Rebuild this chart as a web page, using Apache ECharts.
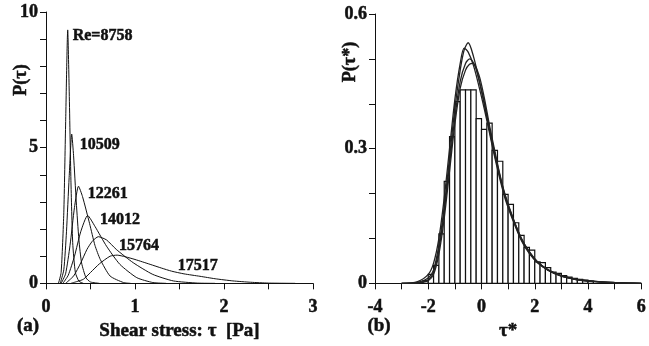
<!DOCTYPE html>
<html>
<head>
<meta charset="utf-8">
<script src="https://cdn.jsdelivr.net/npm/echarts@6/dist/echarts.min.js"></script>
<style>
  html, body { margin: 0; padding: 0; background: #fff; }
  #main { width: 649px; height: 346px; }
</style>
</head>
<body>
<div id="main"></div>
<script>
// (a) P(tau) curves, one per Reynolds number: [tau, P]
var c8758 = [[0.14,0],[0.17,0.4],[0.20,2.6],[0.22,5.8],[0.244,9.34],[0.26,7.2],[0.28,3.8],[0.30,1.5],[0.33,0.4],[0.37,0.08],[0.42,0]];
var c10509 = [[0.16,0],[0.20,0.5],[0.23,1.9],[0.26,3.9],[0.289,5.5],[0.31,4.7],[0.34,3.0],[0.37,1.6],[0.40,0.75],[0.45,0.2],[0.50,0.05],[0.6,0]];
var c12261 = [[0.17,0],[0.22,0.35],[0.27,1.4],[0.32,2.8],[0.365,3.58],[0.41,3.2],[0.49,2.2],[0.55,1.4],[0.61,0.88],[0.72,0.27],[0.87,0.03],[0.95,0]];
var c14012 = [[0.19,0],[0.25,0.3],[0.32,1.0],[0.39,1.9],[0.468,2.5],[0.55,2.1],[0.68,1.37],[0.83,0.7],[1.02,0.21],[1.2,0.03],[1.35,0]];
var c15764 = [[0.22,0],[0.31,0.27],[0.39,0.75],[0.46,1.25],[0.52,1.55],[0.588,1.72],[0.68,1.6],[0.79,1.25],[0.98,0.76],[1.2,0.33],[1.43,0.09],[1.7,0.01],[1.9,0]];
var c17517 = [[0.28,0],[0.35,0.07],[0.42,0.15],[0.5,0.4],[0.6,0.72],[0.72,1.0],[0.8,1.04],[0.89,0.98],[1.0,0.88],[1.17,0.7],[1.3,0.56],[1.41,0.45],[1.55,0.35],[1.73,0.26],[1.9,0.17],[2.1,0.09],[2.3,0.04],[2.5,0.01],[2.8,0]];
var curvesA = [c8758, c10509, c12261, c14012, c15764, c17517];

// curve labels: [tau, P, text]
var reLabels = [[0.30,9.12,'Re=8758'],[0.38,5.11,'10509'],[0.47,3.31,'12261'],[0.607,2.35,'14012'],[0.82,1.40,'15764'],[1.48,0.66,'17517']];

// (b) normalised histogram: left bin edges and heights
var binWidth = 0.2;
var histLeft = [-2.2,-2.0,-1.8,-1.6,-1.4,-1.2,-1.0,-0.8,-0.6,-0.4,-0.2,0.0,0.2,0.4,0.6,0.8,1.0,1.2,1.4,1.6,1.8,2.0,2.2,2.4,2.6,2.8,3.0,3.2,3.4,3.6,3.8,4.0];
var histHeight = [0.006,0.02,0.04,0.11,0.227,0.327,0.405,0.431,0.431,0.431,0.367,0.343,0.357,0.296,0.272,0.198,0.176,0.135,0.107,0.080,0.074,0.048,0.046,0.035,0.025,0.022,0.017,0.014,0.011,0.009,0.007,0.005];

// (b) collapsed curves P(tau*)
var cA = [[-3,0],[-2.4,0.002],[-2.0,0.012],[-1.8,0.03],[-1.6,0.085],[-1.4,0.17],[-1.2,0.28],[-1.0,0.39],[-0.8,0.475],[-0.65,0.52],[-0.5,0.536],[-0.3,0.505],[-0.1,0.455],[0.1,0.40],[0.3,0.34],[0.5,0.285],[0.7,0.235],[0.9,0.19],[1.2,0.14],[1.5,0.097],[1.8,0.068],[2.1,0.047],[2.5,0.029],[3.0,0.016],[3.5,0.009],[4.0,0.005],[4.5,0.003],[5.0,0.0015],[5.5,0.0006],[6.0,0]];
var cB = [[-3,0],[-2.4,0.004],[-2.0,0.02],[-1.8,0.045],[-1.6,0.1],[-1.4,0.19],[-1.2,0.3],[-1.0,0.41],[-0.8,0.49],[-0.65,0.524],[-0.5,0.515],[-0.3,0.485],[-0.1,0.44],[0.1,0.39],[0.3,0.335],[0.5,0.28],[0.7,0.23],[0.9,0.186],[1.2,0.137],[1.5,0.095],[1.8,0.066],[2.1,0.046],[2.5,0.03],[3.0,0.017],[3.5,0.01],[4.0,0.006],[4.5,0.0035],[5.0,0.002],[5.5,0.001],[6.0,0]];
var cC = [[-3,0],[-2.4,0.001],[-2.0,0.008],[-1.8,0.025],[-1.6,0.075],[-1.4,0.16],[-1.2,0.265],[-1.0,0.37],[-0.8,0.45],[-0.6,0.49],[-0.44,0.50],[-0.25,0.485],[-0.1,0.455],[0.1,0.405],[0.3,0.345],[0.5,0.29],[0.7,0.238],[0.9,0.193],[1.2,0.142],[1.5,0.1],[1.8,0.07],[2.1,0.048],[2.5,0.03],[3.0,0.017],[3.5,0.0095],[4.0,0.0055],[4.5,0.003],[5.0,0.0015],[5.5,0.0005],[6.0,0]];
var cD = [[-3,0],[-2.4,0.001],[-2.0,0.006],[-1.8,0.02],[-1.6,0.065],[-1.4,0.145],[-1.2,0.25],[-1.0,0.355],[-0.8,0.435],[-0.6,0.475],[-0.45,0.488],[-0.32,0.49],[-0.1,0.465],[0.1,0.415],[0.3,0.352],[0.5,0.295],[0.7,0.24],[0.9,0.195],[1.2,0.143],[1.5,0.1],[1.8,0.07],[2.1,0.048],[2.5,0.03],[3.0,0.016],[3.5,0.009],[4.0,0.005],[4.5,0.003],[5.0,0.0015],[5.5,0.0005],[6.0,0]];
var curvesB = [cA, cB, cC, cD];

var serif = '"Liberation Serif", "DejaVu Serif", serif';
var ink = '#111';
// slight outline makes the bold serif look as heavy as the printed figure
var heavy = { textBorderColor: ink, textBorderWidth: 0.5 };

function near(v, t) { return Math.abs(v - t) < 1e-6; }

var axisCommon = {
  axisLine: { show: true, onZero: false, lineStyle: { color: ink, width: 1 } },
  axisTick: { show: true, inside: false, length: 6, lineStyle: { color: ink, width: 1 } },
  splitLine: { show: false },
  axisLabel: Object.assign({ color: ink, fontFamily: serif, fontWeight: 'bold', fontSize: 18 }, heavy)
};

function xAxisOf(idx, min, max, interval, labelFn, name) {
  return Object.assign({}, axisCommon, {
    type: 'value', gridIndex: idx, min: min, max: max, interval: interval,
    name: name, nameLocation: 'middle', nameGap: 33,
    nameTextStyle: Object.assign({ color: ink, fontFamily: serif, fontWeight: 'bold', fontSize: 19 }, heavy),
    axisLabel: Object.assign({}, axisCommon.axisLabel, { margin: 15, formatter: labelFn })
  });
}
function yAxisOf(idx, min, max, interval, labelFn) {
  return Object.assign({}, axisCommon, {
    type: 'value', gridIndex: idx, min: min, max: max, interval: interval,
    axisLabel: Object.assign({}, axisCommon.axisLabel, { margin: 8, formatter: labelFn })
  });
}

var series = [];
curvesA.forEach(function (d) {
  series.push({
    type: 'line', xAxisIndex: 0, yAxisIndex: 0, data: d,
    showSymbol: false, smooth: 0.2, z: 3,
    lineStyle: { color: ink, width: 1 }
  });
});
series.push({
  type: 'scatter', xAxisIndex: 0, yAxisIndex: 0, data: reLabels,
  symbolSize: 0, z: 5, itemStyle: { opacity: 1 },
  label: Object.assign({
    show: true, position: 'right', distance: 0, opacity: 1,
    formatter: function (p) { return p.value[2]; },
    color: ink, fontFamily: serif, fontWeight: 'bold', fontSize: 16
  }, heavy)
});
series.push({
  type: 'custom', xAxisIndex: 1, yAxisIndex: 1, z: 2,
  data: histLeft.map(function (x, i) { return [x, histHeight[i]]; }),
  encode: { x: 0, y: 1 },
  renderItem: function (params, api) {
    var x0 = api.value(0), h = api.value(1);
    var p0 = api.coord([x0, h]);
    var p1 = api.coord([x0 + binWidth, 0]);
    return {
      type: 'rect',
      shape: { x: p0[0], y: p0[1], width: p1[0] - p0[0], height: p1[1] - p0[1] },
      style: { fill: '#fff', stroke: ink, lineWidth: 1.2 }
    };
  }
});
curvesB.forEach(function (d) {
  series.push({
    type: 'line', xAxisIndex: 1, yAxisIndex: 1, data: d,
    showSymbol: false, smooth: 0.3, z: 4,
    lineStyle: { color: '#222', width: 1.3 }
  });
});

var chart = echarts.init(document.getElementById('main'), null, { renderer: 'canvas' });
chart.setOption({
  animation: false,
  backgroundColor: '#fff',
  grid: [
    { left: 46, top: 12, width: 267, height: 272 },
    { left: 375, top: 14, width: 267, height: 270 }
  ],
  xAxis: [
    xAxisOf(0, 0, 3, 0.5, function (v) { return near(v, Math.round(v)) ? String(Math.round(v)) : ''; }, 'Shear stress: τ  [Pa]'),
    xAxisOf(1, -4, 6, 1, function (v) { return Math.round(v) % 2 === 0 ? String(Math.round(v)) : ''; }, 'τ*')
  ],
  yAxis: [
    yAxisOf(0, 0, 10, 1, function (v) { return (v === 0 || v === 5 || v === 10) ? String(v) : ''; }),
    yAxisOf(1, 0, 0.6, 0.1, function (v) {
      if (near(v, 0)) return '0';
      if (near(v, 0.3)) return '0.3';
      if (near(v, 0.6)) return '0.6';
      return '';
    })
  ],
  graphic: [
    { type: 'text', x: 21, y: 80, rotation: Math.PI / 2,
      style: Object.assign({ text: 'P(τ)', fill: ink, font: 'bold 18px ' + serif, align: 'center', verticalAlign: 'middle', stroke: ink, lineWidth: 0.5 }) },
    { type: 'text', x: 350, y: 62, rotation: Math.PI / 2,
      style: { text: 'P(τ*)', fill: ink, font: 'bold 18px ' + serif, align: 'center', verticalAlign: 'middle', stroke: ink, lineWidth: 0.5 } },
    { type: 'text', x: 28, y: 326,
      style: { text: '(a)', fill: ink, font: 'bold 19px ' + serif, align: 'center', verticalAlign: 'middle', stroke: ink, lineWidth: 0.5 } },
    { type: 'text', x: 379, y: 326,
      style: { text: '(b)', fill: ink, font: 'bold 19px ' + serif, align: 'center', verticalAlign: 'middle', stroke: ink, lineWidth: 0.5 } }
  ],
  series: series
});
</script>
</body>
</html>
